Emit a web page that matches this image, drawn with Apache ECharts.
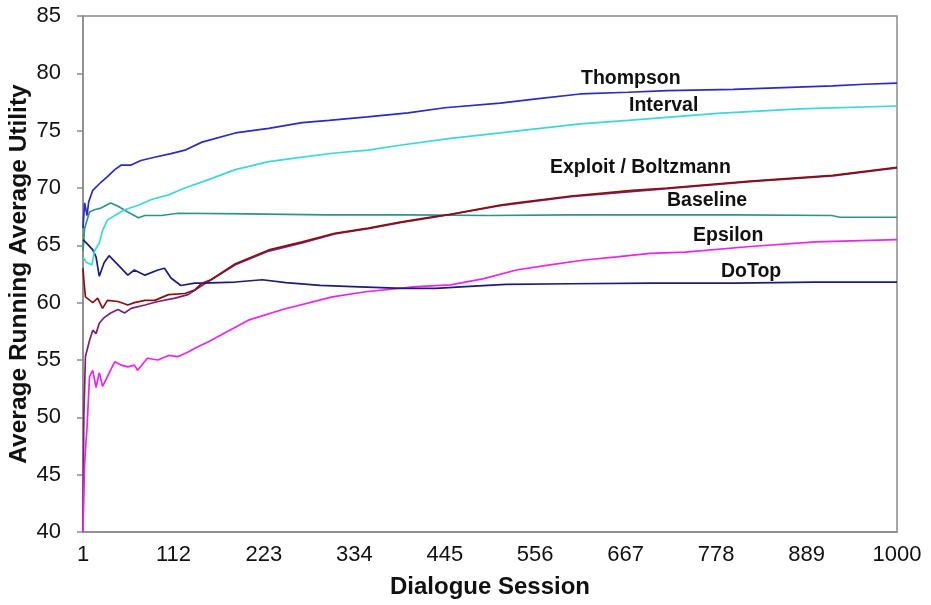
<!DOCTYPE html>
<html>
<head>
<meta charset="utf-8">
<script src="https://cdn.jsdelivr.net/npm/echarts@6/dist/echarts.min.js"></script>
<style>html,body{margin:0;padding:0;background:#fff;}#c{width:931px;height:605px;}</style>
</head>
<body>
<div id="c"></div>
<script>
// [session, average running average utility]
const thompson = [[1,66.5],[3,68.7],[6,67.6],[8,68.8],[13,69.8],[23,70.5],[31,71.0],[40,71.6],[48,72.0],[60,72.0],[72,72.4],[90,72.7],[109,73.0],[126,73.3],[147,74.0],[188,74.8],[229,75.2],[270,75.7],[303,75.9],[350,76.2],[400,76.55],[445,77.0],[513,77.4],[560,77.8],[611,78.2],[670,78.35],[718,78.5],[799,78.6],[860,78.75],[921,78.9],[960,79.05],[1000,79.15]];
const interval = [[1,64.0],[5,63.5],[12,63.3],[15,64.5],[21,65.2],[25,66.3],[31,67.2],[40,67.6],[52,68.1],[69,68.5],[85,69.0],[106,69.4],[126,70.0],[150,70.6],[188,71.6],[229,72.3],[270,72.7],[310,73.05],[351,73.3],[392,73.75],[450,74.3],[513,74.8],[611,75.6],[670,75.9],[780,76.5],[880,76.9],[1000,77.15]];
const exploit = [[1,63.0],[2,62.0],[4,60.5],[13,60.0],[19,60.4],[25,59.5],[31,60.2],[44,60.1],[56,59.8],[64,60.0],[77,60.2],[89,60.2],[106,60.7],[126,60.8],[138,61.1],[147,61.7],[158,62.0],[188,63.4],[229,64.6],[270,65.3],[310,66.05],[351,66.5],[392,67.05],[432,67.5],[452,67.7],[513,68.5],[533,68.7],[600,69.3],[675,69.8],[718,70.0],[820,70.6],[921,71.1],[1000,71.8]];
const boltzmann = [[1,40.0],[2,50.0],[4,55.3],[9,56.7],[13,57.6],[17,57.3],[21,58.2],[27,58.7],[35,59.1],[44,59.4],[52,59.1],[60,59.5],[77,59.8],[93,60.1],[114,60.4],[130,60.7],[147,61.5],[188,63.3],[229,64.5],[270,65.2],[310,66.0],[351,66.45],[392,67.0],[432,67.45],[513,68.45],[600,69.25],[718,69.95],[820,70.55],[921,71.05],[1000,71.75]];
const baseline = [[1,64.5],[3,66.5],[9,67.9],[15,68.1],[23,68.25],[35,68.7],[44,68.4],[56,67.9],[69,67.4],[77,67.6],[97,67.6],[118,67.8],[200,67.75],[300,67.65],[400,67.65],[500,67.6],[600,67.65],[700,67.65],[800,67.65],[920,67.6],[930,67.45],[1000,67.45]];
const epsilon = [[1,40.0],[3,46.0],[6,49.2],[9,53.55],[13,54.1],[17,52.6],[21,53.9],[25,52.7],[31,53.55],[40,54.85],[48,54.55],[56,54.4],[64,54.55],[68,54.1],[80,55.15],[93,55.0],[106,55.4],[118,55.3],[130,55.7],[142,56.15],[155,56.6],[205,58.5],[246,59.4],[307,60.5],[348,60.95],[410,61.4],[452,61.55],[493,62.1],[533,62.85],[574,63.3],[614,63.7],[656,64.0],[697,64.3],[740,64.4],[820,64.9],[900,65.3],[1000,65.5]];
const doTop = [[1,65.5],[8,65.0],[13,64.6],[17,64.0],[21,62.3],[27,63.5],[33,64.1],[44,63.3],[56,62.4],[64,62.85],[77,62.4],[93,62.85],[101,63.0],[109,62.15],[121,61.5],[138,61.7],[147,61.7],[188,61.8],[221,62.0],[250,61.75],[292,61.5],[332,61.4],[393,61.25],[434,61.25],[470,61.4],[520,61.6],[600,61.65],[700,61.7],[800,61.7],[900,61.8],[1000,61.8]];

const seriesNames = ['Thompson','Interval','Exploit','Boltzmann','Baseline','Epsilon','DoTop'];
const labelTexts = ['Thompson','Interval','Exploit / Boltzmann','Baseline','Epsilon','DoTop'];

const chart = echarts.init(document.getElementById('c'));
function ln(name, data, color){
  return {name:name, type:'line', data:data, showSymbol:false, symbol:'none',
    lineStyle:{color:color, width:1.7}, itemStyle:{color:color}, animation:false};
}
function lbl(text, left, top){
  return {type:'text', left:left, top:top,
    style:{text:text, fill:'#111', font:'bold 19.5px Arial, "Liberation Sans", sans-serif'}};
}
chart.setOption({
  backgroundColor:'#fff',
  animation:false,
  grid:{left:83, right:34, top:16, bottom:73, containLabel:false, outerBoundsMode:'none',
    show:true, borderColor:'#8a8a8a', borderWidth:1.5, backgroundColor:'#fff'},
  xAxis:{type:'value', min:1, max:1000, interval:111,
    name:'Dialogue Session', nameLocation:'middle', nameGap:43, nameMoveOverlap:false,
    nameTextStyle:{fontFamily:'Arial, "Liberation Sans"', fontWeight:'bold', fontSize:24, color:'#111'},
    axisLine:{show:true, lineStyle:{color:'#8a8a8a', width:1.5}},
    axisTick:{show:false},
    splitLine:{show:false},
    axisLabel:{fontFamily:'Arial, "Liberation Sans"', fontSize:22, color:'#111', margin:12,
      formatter:function(v){return String(Math.round(v));}}},
  yAxis:{type:'value', min:40, max:85, interval:5,
    name:'Average Running Average Utility', nameLocation:'middle', nameGap:51, nameRotate:90, nameMoveOverlap:false,
    nameTextStyle:{fontFamily:'Arial, "Liberation Sans"', fontWeight:'bold', fontSize:24.5, color:'#111'},
    axisLine:{show:true, lineStyle:{color:'#8a8a8a', width:1.5}},
    axisTick:{show:true, inside:false, length:6, lineStyle:{color:'#8a8a8a', width:1.5}},
    splitLine:{show:false},
    axisLabel:{fontFamily:'Arial, "Liberation Sans"', fontSize:22, color:'#111', margin:22}},
  graphic:[
    lbl(labelTexts[0], 581, 69),
    lbl(labelTexts[1], 629, 96),
    lbl(labelTexts[2], 550, 158),
    lbl(labelTexts[3], 667, 191),
    lbl(labelTexts[4], 693, 226),
    lbl(labelTexts[5], 721, 262)
  ],
  series:[
    ln(seriesNames[4], baseline, '#2f9488'),
    ln(seriesNames[3], boltzmann, '#7a1f7a'),
    ln(seriesNames[5], epsilon, '#ee22ee'),
    ln(seriesNames[6], doTop, '#1c1c7e'),
    ln(seriesNames[2], exploit, '#8b1010'),
    ln(seriesNames[1], interval, '#3ad8d8'),
    ln(seriesNames[0], thompson, '#2a2ac8')
  ]
});
</script>
</body>
</html>
